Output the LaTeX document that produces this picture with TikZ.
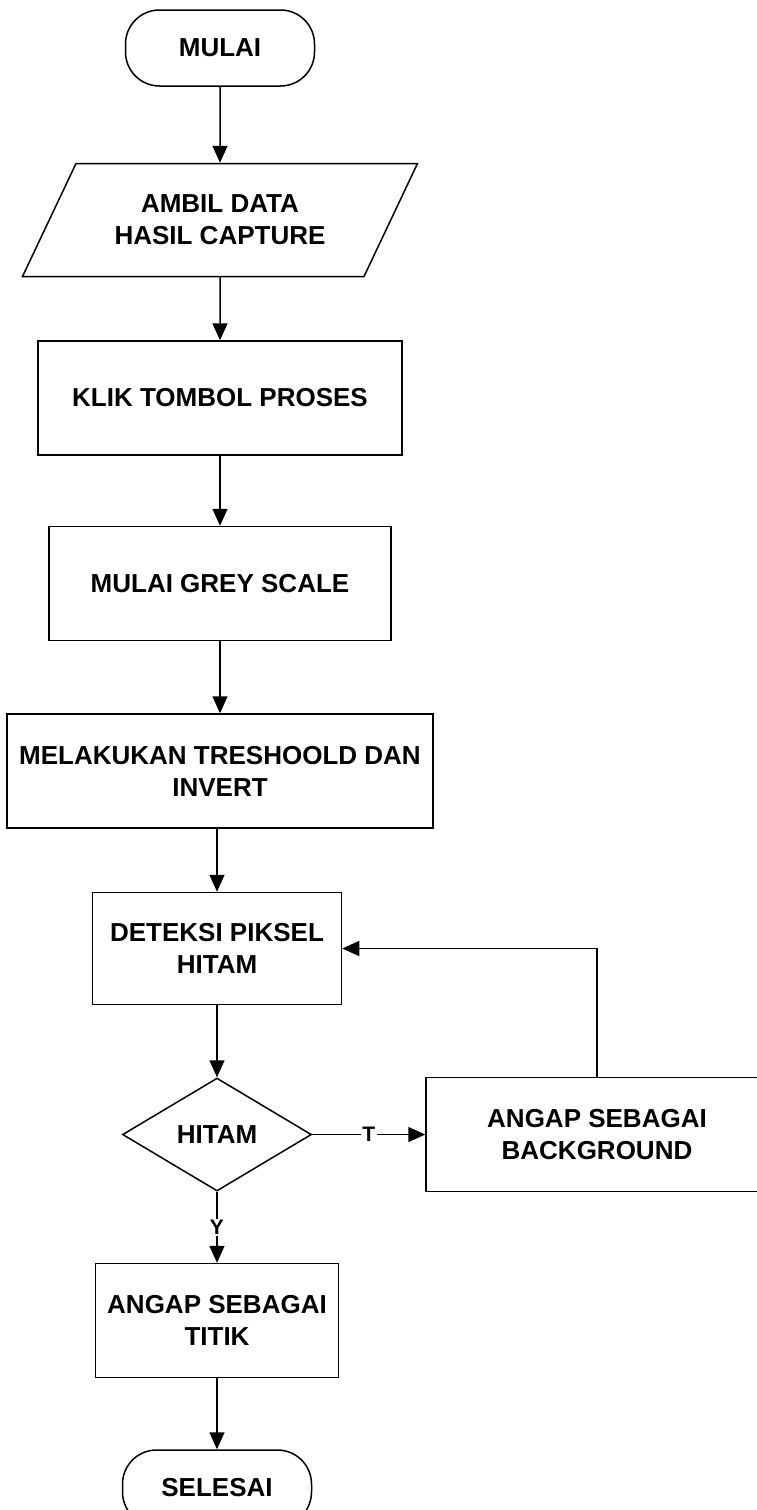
\documentclass[tikz,border=0pt]{standalone}
\usepackage{fontspec}
\setmainfont{Liberation Sans}
\usetikzlibrary{positioning,shapes.geometric,arrows.meta}

\tikzset{
  terminal/.style={draw, rectangle, rounded corners=34pt, minimum width=189pt, minimum height=76pt, inner sep=0pt},
  data/.style={draw, trapezium, trapezium left angle=52, trapezium right angle=128, trapezium stretches=true, minimum width=396pt, minimum height=113pt, inner sep=0pt, align=center},
  process/.style={draw, rectangle, minimum height=114pt, inner sep=0pt, align=center},
  decision/.style={draw, diamond, aspect=1.67, minimum width=189pt, minimum height=113pt, inner sep=0pt},
  flow/.style={-{Triangle[length=17pt,width=15pt]}},
  lbl/.style={fill=white, inner sep=1.5pt, font=\bfseries\fontsize{21}{24}\selectfont},
}

\begin{document}
\begin{tikzpicture}[line width=1.5pt, font=\bfseries\fontsize{26}{32}\selectfont]
      \useasboundingbox (0,0) rectangle (756pt,-1510pt) ;

      \node[terminal] (mulai) at (220pt,-48pt) {MULAI} ;
      \node[data, below=76pt of mulai] (ambil) {AMBIL DATA\\HASIL CAPTURE} ;
      \node[process, minimum width=364pt, below=63pt of ambil] (klik) {KLIK TOMBOL PROSES} ;
      \node[process, minimum width=342pt, below=70pt of klik] (grey) {MULAI GREY SCALE} ;
      \node[process, minimum width=426pt, below=72pt of grey] (tresh) {MELAKUKAN TRESHOOLD DAN\\INVERT} ;
      \node[process, minimum width=249pt, minimum height=112pt, below=63pt of tresh, xshift=-3pt] (deteksi) {DETEKSI PIKSEL\\HITAM} ;
      \node[decision, below=72pt of deteksi] (hitam) {HITAM} ;
      \node[process, minimum width=342pt, right=113pt of hitam] (bg) {ANGAP SEBAGAI\\BACKGROUND} ;
      \node[process, minimum width=243pt, below=71pt of hitam] (titik) {ANGAP SEBAGAI\\TITIK} ;
      \node[terminal, below=71pt of titik] (selesai) {SELESAI} ;

      \draw[flow] (mulai) -- (ambil) ;
      \draw[flow] (ambil) -- (klik) ;
      \draw[flow] (klik) -- (grey) ;
      \draw[flow] (grey) -- (tresh) ;
      \draw[flow] (tresh.south -| deteksi) -- (deteksi) ;
      \draw[flow] (deteksi) -- (hitam) ;
      \draw[flow] (hitam) -- (bg) node[lbl, midway] {T} ;
      \draw[flow] (hitam) -- (titik) node[lbl, midway] {Y} ;
      \draw[flow] (titik) -- (selesai) ;
      \draw[flow] (bg.north) |- (deteksi.east) ;
\end{tikzpicture}
\end{document}
